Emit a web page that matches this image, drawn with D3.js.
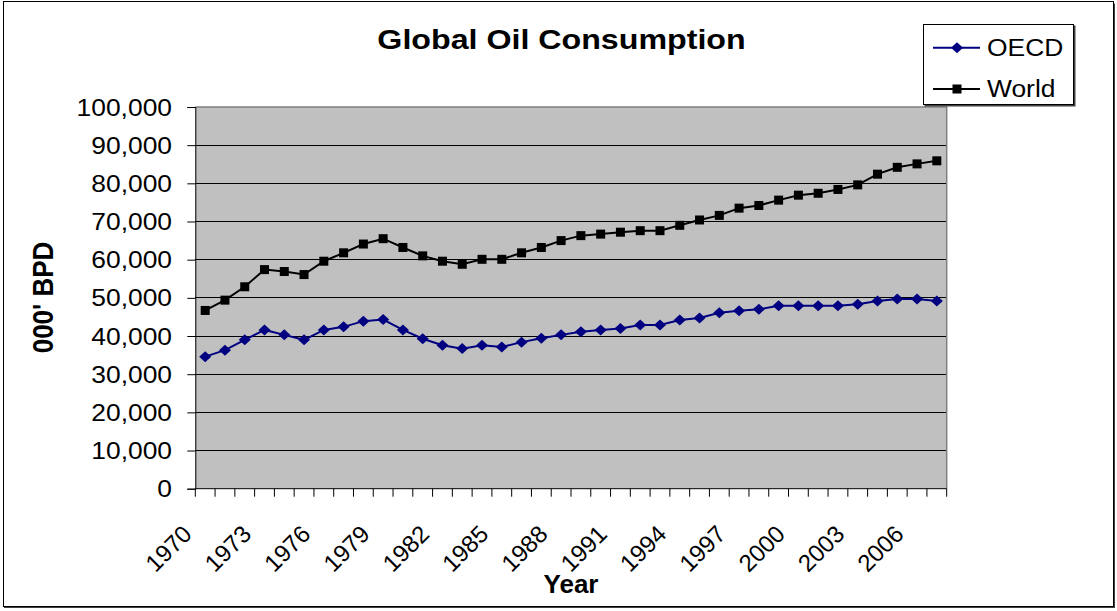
<!DOCTYPE html>
<html><head><meta charset="utf-8">
<script src="https://cdn.jsdelivr.net/npm/d3@7"></script>
<style>
html,body{margin:0;padding:0;background:#fff;}
text{font-family:"Liberation Sans",Arial,sans-serif;fill:#000;}
</style></head>
<body>
<svg id="chart" width="1117" height="611"></svg>
<script>
const years = [1970,1971,1972,1973,1974,1975,1976,1977,1978,1979,
  1980,1981,1982,1983,1984,1985,1986,1987,1988,1989,
  1990,1991,1992,1993,1994,1995,1996,1997,1998,1999,
  2000,2001,2002,2003,2004,2005,2006,2007];
const oecd = [34600,36300,39000,41600,40300,39000,41600,42400,43900,44300,
  41600,39300,37600,36700,37600,37100,38400,39400,40300,41100,
  41600,42000,42900,42900,44200,44700,46100,46600,47000,47900,
  47900,47900,47900,48300,49200,49700,49700,49200];
const world = [46700,49400,52900,57400,56900,56100,59600,61800,64100,65500,
  63200,61000,59600,58800,60100,60100,61800,63200,65000,66300,
  66700,67200,67600,67600,69000,70400,71600,73500,74200,75600,
  76900,77400,78400,79600,82400,84200,85100,85900];
const yTicks = [0,10000,20000,30000,40000,50000,60000,70000,80000,90000,100000];
const seriesNames = ["OECD","World"];
const title = "Global Oil Consumption";
const xTitle = "Year";
const yTitle = "000' BPD";

const svg = d3.select("#chart");
const L = 195.3, R = 946.7, T = 107, B = 488.7;
const x = d3.scaleBand().domain(years).range([L, R]).padding(0);
const y = d3.scaleLinear().domain([0, 100000]).range([B, T]);
const sx = 1.1;

// outer frame
svg.append("rect").attr("x",4).attr("y",3.5).attr("width",1111).attr("height",604.5)
  .attr("fill","#404040");
svg.append("rect").attr("x",3.5).attr("y",1.5).attr("width",1110).attr("height",605)
  .attr("fill","#fff").attr("stroke","#000").attr("stroke-width",1);

// plot background
svg.append("rect").attr("x",L).attr("y",T).attr("width",R-L).attr("height",B-T)
  .attr("fill","#C0C0C0");

// gridlines
svg.append("g").selectAll("line").data(yTicks.filter(d=>d>0 && d<100000)).join("line")
  .attr("x1",L).attr("x2",R).attr("y1",d=>y(d)).attr("y2",d=>y(d))
  .attr("stroke","#000").attr("stroke-width",1).attr("shape-rendering","crispEdges");

// plot border top/right
svg.append("path").attr("d",`M${L},${T}H${R}V${B}`).attr("fill","none")
  .attr("stroke","#808080").attr("stroke-width",1.5);

// y axis
const yAxis = d3.axisLeft(y).tickValues(yTicks).tickSize(8).tickFormat("");
const gy = svg.append("g").attr("transform",`translate(${L},0)`).call(yAxis);
gy.select(".domain").attr("stroke","#000");
gy.selectAll(".tick line").attr("stroke","#000");
svg.append("g").selectAll("text").data(yTicks).join("text")
  .attr("transform",d=>`translate(172,${y(d)+8.6}) scale(${sx},1)`)
  .attr("text-anchor","end").style("font-size","24px")
  .text(d=>d3.format(",")(d));

// x axis
const bounds = years.map(d=>x(d)).concat([R]);
svg.append("line").attr("x1",L).attr("x2",R).attr("y1",B).attr("y2",B)
  .attr("stroke","#000").attr("stroke-width",1);
svg.append("g").selectAll("line").data(bounds).join("line")
  .attr("x1",d=>d).attr("x2",d=>d).attr("y1",B).attr("y2",B+8)
  .attr("stroke","#000").attr("stroke-width",1);
svg.append("g").selectAll("text").data(years.filter((d,i)=>i%3===0)).join("text")
  .attr("transform",d=>`translate(${x(d)-2},535.5) rotate(-45)`)
  .attr("text-anchor","end").style("font-size","24px")
  .text(d=>d);

// titles
svg.append("text").attr("transform",`translate(561.5,48.5) scale(1.15,1)`)
  .attr("text-anchor","middle").style("font-size","28px").style("font-weight","bold").text(title);
svg.append("text").attr("transform",`translate(571,593) scale(1.04,1)`)
  .attr("text-anchor","middle").style("font-size","25px").style("font-weight","bold").text(xTitle);
svg.append("text").attr("transform",`translate(52.5,297.5) scale(${sx},1) rotate(-90)`)
  .attr("text-anchor","middle").style("font-size","26px").style("font-weight","bold").text(yTitle);

// series
const cx = d=>x(d)+x.bandwidth()/2;
const line = d3.line().x((v,i)=>cx(years[i])).y(v=>y(v));
svg.append("path").datum(oecd).attr("d",line).attr("fill","none")
  .attr("stroke","#000080").attr("stroke-width",2);
svg.append("path").datum(world).attr("d",line).attr("fill","none")
  .attr("stroke","#000").attr("stroke-width",2);
const diamond = "M0,-5.5L6,0L0,5.5L-6,0Z";
svg.append("g").selectAll("path").data(oecd).join("path")
  .attr("transform",(v,i)=>`translate(${cx(years[i])},${y(v)})`)
  .attr("d",diamond).attr("fill","#000080");
svg.append("g").selectAll("rect").data(world).join("rect")
  .attr("x",(v,i)=>cx(years[i])-4.5).attr("y",v=>y(v)-4.5)
  .attr("width",9).attr("height",9).attr("fill","#000");

// legend
const lg = svg.append("g");
lg.append("rect").attr("x",924.5).attr("y",25.5).attr("width",151).attr("height",81).attr("fill","#404040");
lg.append("rect").attr("x",923.5).attr("y",24.5).attr("width",150).attr("height",80)
  .attr("fill","#fff").attr("stroke","#000").attr("stroke-width",1);
const rows = [{name:seriesNames[0],color:"#000080",y:47.7,mark:"d"},{name:seriesNames[1],color:"#000",y:89,mark:"s"}];
rows.forEach(r=>{
  lg.append("line").attr("x1",933).attr("x2",980).attr("y1",r.y).attr("y2",r.y)
    .attr("stroke",r.color).attr("stroke-width",2);
  if(r.mark==="d") lg.append("path").attr("transform",`translate(957,${r.y})`).attr("d",diamond).attr("fill",r.color);
  else lg.append("rect").attr("x",957-4.5).attr("y",r.y-4.5).attr("width",9).attr("height",9).attr("fill",r.color);
  lg.append("text").attr("transform",`translate(987,${r.y+8.3}) scale(${sx},1)`)
    .style("font-size","24px").text(r.name);
});
</script>
</body></html>
